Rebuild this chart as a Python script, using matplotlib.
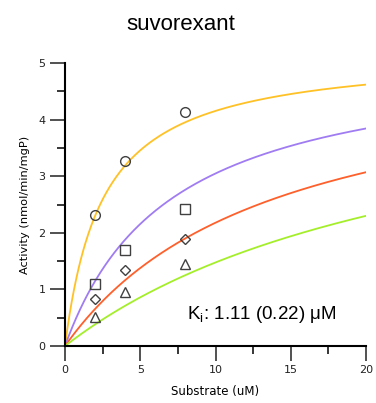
import numpy as np
import matplotlib
matplotlib.use("Agg")
import matplotlib.pyplot as plt
from matplotlib.ticker import MultipleLocator

## measured points (substrate uM, activity)
substrate = [2, 4, 8]
act_circle = [2.31, 3.27, 4.13]
act_square = [1.10, 1.70, 2.42]
act_diamond = [0.83, 1.34, 1.89]
act_triangle = [0.51, 0.95, 1.45]

## fitted competitive inhibition model
vmax = 5.2
km = 2.52
ki = 1.11
inhib = [0, 2, 5, 10]
curve_colors = ["#FFC125", "#A07CF2", "#FF5F2A", "#A4EE2A"]

fig = plt.figure(figsize=(3.76, 4.03), dpi=100)
ax = fig.add_axes([65/376, 57/403, 301/376, 283/403])

xs = np.linspace(0, 20, 400)
for I, c in zip(inhib, curve_colors):
	kapp = km*(1 + I/ki)
	ax.plot(xs, vmax*xs/(kapp + xs), color=c, lw=1.3, zorder=2)

mk = dict(ls="none", mfc="none", mec="#404040", mew=1.0, ms=7, zorder=3)
ax.plot(substrate, act_circle, marker="o", **mk)
ax.plot(substrate, act_square, marker="s", **mk)
ax.plot(substrate, act_diamond, marker="D", **dict(mk, ms=5.5))
ax.plot(substrate, act_triangle, marker="^", **mk)

ax.set_xlim(0, 20)
ax.set_ylim(0, 5)
ax.xaxis.set_major_locator(MultipleLocator(5))
ax.xaxis.set_minor_locator(MultipleLocator(2.5))
ax.yaxis.set_major_locator(MultipleLocator(1))
ax.yaxis.set_minor_locator(MultipleLocator(0.5))
for s in ["top", "right"]:
	ax.spines[s].set_visible(False)
for s in ["left", "bottom"]:
	ax.spines[s].set_linewidth(1.5)
ax.tick_params(which="major", length=11, width=1.1, labelsize=8, pad=3, colors="#222222")
ax.tick_params(which="minor", length=6, width=1.1)
ax.set_xlabel("Substrate (uM)", fontsize=8.5, labelpad=7)
ax.set_ylabel("Activity (nmol/min/mgP)", fontsize=8.2, labelpad=6)

fig.text(181/376, 1 - 24/403, "suvorexant", ha="center", va="center",
	fontsize=16, family="Liberation Sans")
ax.text(0.405, 0.11, r"K$_\mathregular{i}$: 1.11 (0.22) μM", transform=ax.transAxes,
	ha="left", va="center", fontsize=13.5, family="Liberation Sans")

plt.savefig("out.png", dpi=100)
